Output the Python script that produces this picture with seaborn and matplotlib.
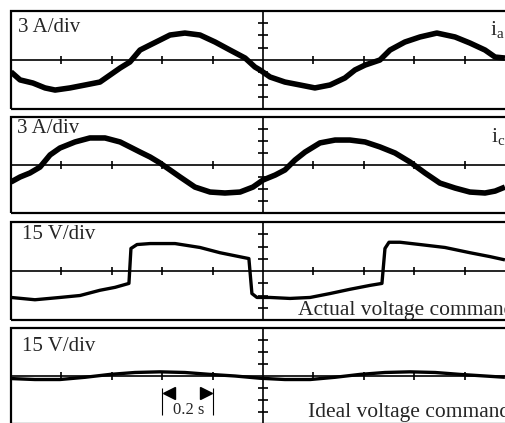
import matplotlib
matplotlib.use("Agg")
import matplotlib.pyplot as plt
from matplotlib.patches import Rectangle
import seaborn as sns
import pandas as pd

# ---------------- data ----------------
# time in seconds, 0 at the centre graticule line (0.2 s/div)
ia_t = [-1.000, -0.964, -0.913, -0.865, -0.825, -0.766, -0.706, -0.647, -0.607, -0.567,
        -0.528, -0.488, -0.448, -0.409, -0.369, -0.310, -0.250, -0.190, -0.131, -0.071,
        -0.032, -0.012, 0.028, 0.087, 0.147, 0.206, 0.266, 0.325, 0.365, 0.405,
        0.464, 0.504, 0.563, 0.623, 0.690, 0.762, 0.821, 0.881, 0.921, 0.960]
ia_v = [-0.73, -1.22, -1.41, -1.71, -1.84, -1.71, -1.53, -1.35, -0.92, -0.49,
        -0.12, 0.61, 0.92, 1.22, 1.53, 1.65, 1.53, 1.10, 0.61, 0.12,
        -0.43, -0.61, -1.04, -1.35, -1.53, -1.71, -1.53, -1.10, -0.61, -0.31,
        0.00, 0.61, 1.10, 1.41, 1.65, 1.41, 1.04, 0.61, 0.18, 0.12]

ic_t = [-1.000, -0.964, -0.925, -0.885, -0.845, -0.806, -0.746, -0.687, -0.627, -0.567,
        -0.528, -0.488, -0.448, -0.409, -0.369, -0.329, -0.270, -0.210, -0.151, -0.091,
        -0.040, 0.000, 0.048, 0.087, 0.127, 0.167, 0.226, 0.286, 0.345, 0.405,
        0.464, 0.524, 0.583, 0.643, 0.702, 0.762, 0.821, 0.881, 0.921, 0.960]
ic_v = [-1.06, -0.75, -0.50, -0.13, 0.63, 1.06, 1.44, 1.69, 1.69, 1.44,
        1.13, 0.81, 0.50, 0.13, -0.31, -0.75, -1.38, -1.69, -1.75, -1.69,
        -1.38, -0.94, -0.63, -0.31, 0.31, 0.81, 1.38, 1.56, 1.56, 1.44,
        1.13, 0.75, 0.19, -0.50, -1.13, -1.44, -1.69, -1.75, -1.63, -1.38]

va_t = [-1.000, -0.905, -0.806, -0.726, -0.647, -0.587, -0.532, -0.524, -0.500, -0.448,
        -0.349, -0.250, -0.171, -0.056, -0.044, -0.024, 0.028, 0.107, 0.187, 0.266,
        0.345, 0.425, 0.472, 0.484, 0.500, 0.544, 0.623, 0.722, 0.821, 0.901, 0.960]
va_v = [-8.1, -8.8, -8.1, -7.5, -5.9, -5.0, -3.8, 6.9, 8.1, 8.4,
        8.4, 7.2, 5.6, 3.8, -6.9, -8.1, -8.1, -8.4, -8.1, -6.9,
        -5.6, -4.4, -3.8, 6.9, 8.8, 8.8, 8.1, 7.2, 5.6, 4.4, 3.4]

vi_t = [-1.000, -0.905, -0.806, -0.706, -0.607, -0.508, -0.409, -0.310, -0.210, -0.111,
        -0.012, 0.087, 0.187, 0.286, 0.385, 0.484, 0.583, 0.683, 0.782, 0.881, 0.960]
vi_v = [-0.8, -1.1, -1.1, -0.4, 0.5, 1.1, 1.3, 1.1, 0.5, 0.0,
        -0.7, -1.1, -1.1, -0.4, 0.5, 1.1, 1.3, 1.1, 0.5, 0.0, -0.4]

scale_labels = ["3 A/div", "3 A/div", "15 V/div", "15 V/div"]
trace_labels = [r"$\mathrm{i_a}$", r"$\mathrm{i_c}$", "Actual voltage command", "Ideal voltage command"]
scale_bar_text = "0.2 s"

# ---------------- style ----------------
sns.set_style("white")
plt.rcParams["font.family"] = ["Liberation Serif", "DejaVu Serif"]
plt.rcParams["mathtext.fontset"] = "custom"
plt.rcParams["mathtext.rm"] = "Liberation Serif"
plt.rcParams["mathtext.it"] = "Liberation Serif:italic"

W, H = 505, 423
fig = plt.figure(figsize=(W / 100, H / 100), dpi=100)

panels = [  # (top px, bottom px, half-range, t, v, linewidth)
    (11, 109, 3.0, ia_t, ia_v, 4.0),
    (117, 213, 3.0, ic_t, ic_v, 4.0),
    (222, 320, 15.0, va_t, va_v, 2.4),
    (328, 424, 15.0, vi_t, vi_v, 2.4),
]

axes = []
for top, bot, lim, t, v, lw in panels:
    ax = fig.add_axes([11 / W, 1 - bot / H, 504 / W, (bot - top) / H])
    ax.set_xlim(-1.0, 1.0)
    ax.set_ylim(-lim, lim)
    df = pd.DataFrame({"t": t, "v": v})
    sns.lineplot(data=df, x="t", y="v", ax=ax, color="black", linewidth=lw,
                 estimator=None, sort=False, legend=False,
                 solid_joinstyle="round", solid_capstyle="butt")
    for s in ("top", "right"):
        ax.spines[s].set_visible(False)
    for s in ("left", "bottom"):
        ax.spines[s].set_position(("data", 0))
        ax.spines[s].set_linewidth(1.2)
        ax.spines[s].set_color("black")
    ax.set_xticks([-0.8, -0.6, -0.4, -0.2, 0.2, 0.4, 0.6, 0.8])
    ax.set_yticks([f * lim for f in (-0.75, -0.5, -0.25, 0.25, 0.5, 0.75)])
    ax.tick_params(axis="x", direction="inout", length=6, width=1.2, color="black",
                   labelbottom=False, bottom=True)
    ax.tick_params(axis="y", direction="inout", length=7.5, width=1.2, color="black",
                   labelleft=False, left=True)
    ax.set_xlabel("")
    ax.set_ylabel("")
    ax.add_patch(Rectangle((0, 0), 1, 1, transform=ax.transAxes, fill=False,
                           lw=1.6, ec="black", clip_on=False))
    axes.append(ax)

# scale bar (0.2 s) in the last panel
ax4 = axes[3]
ax4.vlines([-0.4, -0.2], -12.2, -3.8, color="black", lw=0.8)
ax4.plot([-0.372], [-5.3], marker="<", color="black", ms=8, ls="none")
ax4.plot([-0.228], [-5.3], marker=">", color="black", ms=8, ls="none")
fig.text(173 / W, 1 - 414 / H, scale_bar_text, fontsize=12, va="baseline", ha="left")

# text labels
scale_pos = [(18, 32), (17, 133), (22, 239), (22, 351)]
for (x, y), s in zip(scale_pos, scale_labels):
    fig.text(x / W, 1 - y / H, s, fontsize=15, va="baseline", ha="left")

trace_pos = [(490, 35), (491, 142), (298, 315), (308, 417)]
for (x, y), s in zip(trace_pos, trace_labels):
    fig.text(x / W, 1 - y / H, s, fontsize=15.5, va="baseline", ha="left")

fig.savefig("out.png", dpi=100)
